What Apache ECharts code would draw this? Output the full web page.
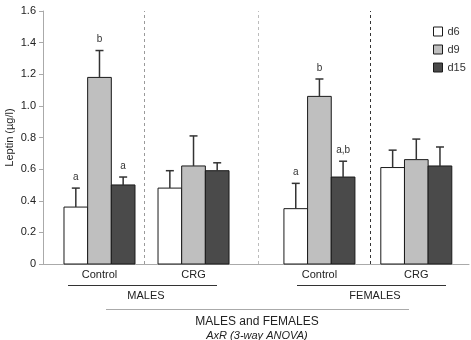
<!DOCTYPE html>
<html>
<head>
<meta charset="utf-8">
<script src="https://cdn.jsdelivr.net/npm/echarts@6/dist/echarts.min.js"></script>
<style>
  html, body { margin: 0; padding: 0; background: #fff; }
  #main { width: 471px; height: 340px; }
</style>
</head>
<body>
<div id="main"></div>
<script>
// data
const groups = ['Control', 'CRG', 'Control', 'CRG'];
const days = ['d6', 'd9', 'd15'];
const d6 = [0.36, 0.48, 0.35, 0.61];
const d9 = [1.18, 0.62, 1.06, 0.66];
const d15 = [0.50, 0.59, 0.55, 0.62];
const d6Err = [0.12, 0.11, 0.16, 0.11];
const d9Err = [0.17, 0.19, 0.11, 0.13];
const d15Err = [0.05, 0.05, 0.10, 0.12];
const d6Sig = ['a', '', 'a', ''];
const d9Sig = ['b', '', 'b', ''];
const d15Sig = ['a', '', 'a,b', ''];
const yTicks = [0, 0.2, 0.4, 0.6, 0.8, 1.0, 1.2, 1.4, 1.6];

// layout on a hidden value x axis (units)
const groupPos = [1.79, 4.77, 8.76, 11.83];
const barW = 0.75;
const fills = ['#ffffff', '#bfbfbf', '#4a4a4a'];
const font = 'Liberation Sans, Arial, sans-serif';

const vals = [d6, d9, d15];
const errs = [d6Err, d9Err, d15Err];
const sigs = [d6Sig, d9Sig, d15Sig];

function makeRender(k) {
  return function (params, api) {
    const x = api.value(0), y = api.value(1), e = api.value(2);
    const base = api.coord([x, 0]);
    const top = api.coord([x, y]);
    const errTop = api.coord([x, y + e]);
    const w = api.size([barW, 0])[0];
    const cx = base[0] + (k - 1) * w;
    const children = [
      {
        type: 'rect',
        shape: { x: cx - w / 2, y: top[1], width: w, height: base[1] - top[1] },
        style: { fill: fills[k], stroke: '#1a1a1a', lineWidth: 1 }
      },
      {
        type: 'line',
        shape: { x1: cx, y1: top[1], x2: cx, y2: errTop[1] },
        style: { stroke: '#333', lineWidth: 1.5 }
      },
      {
        type: 'line',
        shape: { x1: cx - 4, y1: errTop[1], x2: cx + 4, y2: errTop[1] },
        style: { stroke: '#333', lineWidth: 1.5 }
      }
    ];
    const s = sigs[k][params.dataIndex];
    if (s) {
      children.push({
        type: 'text',
        style: {
          text: s, x: cx, y: errTop[1] - 6,
          align: 'center', verticalAlign: 'bottom',
          fill: '#333', font: '10px ' + font
        }
      });
    }
    return { type: 'group', children: children };
  };
}

const series = days.map(function (name, k) {
  const s = {
    name: name,
    type: 'custom',
    renderItem: makeRender(k),
    itemStyle: { color: fills[k], borderColor: '#1a1a1a', borderWidth: 1 },
    encode: { x: 0, y: 1 },
    data: groupPos.map(function (p, j) { return [p, vals[k][j], errs[k][j]]; })
  };
  if (k === 0) {
    s.markLine = {
      silent: true,
      symbol: 'none',
      label: { show: false },
      data: [
        { xAxis: 3.2, lineStyle: { color: '#9a9a9a', type: [3, 3], width: 1 } },
        { xAxis: 6.81, lineStyle: { color: '#bcbcbc', type: [3, 3], width: 1 } },
        { xAxis: 10.36, lineStyle: { color: '#333333', type: [3, 3], width: 1 } }
      ]
    };
  }
  return s;
});

const chart = echarts.init(document.getElementById('main'), null, { renderer: 'canvas' });
chart.setOption({
  animation: false,
  textStyle: { fontFamily: font },
  grid: { left: 43, right: 2, top: 11, bottom: 76, outerBoundsMode: 'none', containLabel: false },
  legend: {
    orient: 'vertical',
    left: 428,
    top: 21,
    itemWidth: 9,
    itemHeight: 9,
    itemGap: 7,
    textStyle: { fontSize: 11, color: '#333', fontFamily: font },
    data: days.map(function (d, k) {
      return { name: d, icon: 'rect', itemStyle: { color: fills[k], borderColor: '#1a1a1a', borderWidth: 1 } };
    })
  },
  xAxis: {
    type: 'value',
    min: 0,
    max: 13.5,
    splitLine: { show: false },
    axisLine: { show: true, onZero: false, lineStyle: { color: '#aaa' } },
    axisTick: { show: false },
    axisLabel: {
      customValues: groupPos,
      margin: 5,
      fontSize: 11,
      color: '#222',
      formatter: function (v) {
        const i = groupPos.indexOf(v);
        return i >= 0 ? groups[i] : '';
      }
    }
  },
  yAxis: {
    type: 'value',
    min: 0,
    max: 1.6,
    interval: 0.2,
    name: 'Leptin (\u00b5g/l)',
    nameLocation: 'middle',
    nameRotate: 90,
    nameGap: 28,
    nameMoveOverlap: false,
    nameTextStyle: { fontSize: 11, color: '#222' },
    splitLine: { show: false },
    axisLine: { show: true, lineStyle: { color: '#aaa' } },
    axisTick: { show: true, length: 4, lineStyle: { color: '#aaa' } },
    axisLabel: {
      fontSize: 11,
      color: '#222',
      margin: 7,
      formatter: function (v) {
        const t = yTicks.find(function (q) { return Math.abs(q - v) < 1e-6; });
        return t === 0 ? '0' : t.toFixed(1);
      }
    }
  },
  graphic: [
    { type: 'line', shape: { x1: 68, y1: 285.5, x2: 217, y2: 285.5 }, style: { stroke: '#333', lineWidth: 1 } },
    { type: 'line', shape: { x1: 297, y1: 285.5, x2: 446, y2: 285.5 }, style: { stroke: '#333', lineWidth: 1 } },
    { type: 'text', x: 146, y: 296, style: { text: 'MALES', align: 'center', verticalAlign: 'middle', fill: '#222', font: '11px ' + font } },
    { type: 'text', x: 375, y: 296, style: { text: 'FEMALES', align: 'center', verticalAlign: 'middle', fill: '#222', font: '11px ' + font } },
    { type: 'line', shape: { x1: 106, y1: 309.5, x2: 409, y2: 309.5 }, style: { stroke: '#aaa', lineWidth: 1 } },
    { type: 'text', x: 257, y: 322, style: { text: 'MALES and FEMALES', align: 'center', verticalAlign: 'middle', fill: '#222', font: '12px ' + font } },
    { type: 'text', x: 257, y: 336, style: { text: 'AxR (3-way ANOVA)', align: 'center', verticalAlign: 'middle', fill: '#222', font: 'italic 11px ' + font } }
  ],
  series: series
});
</script>
</body>
</html>
